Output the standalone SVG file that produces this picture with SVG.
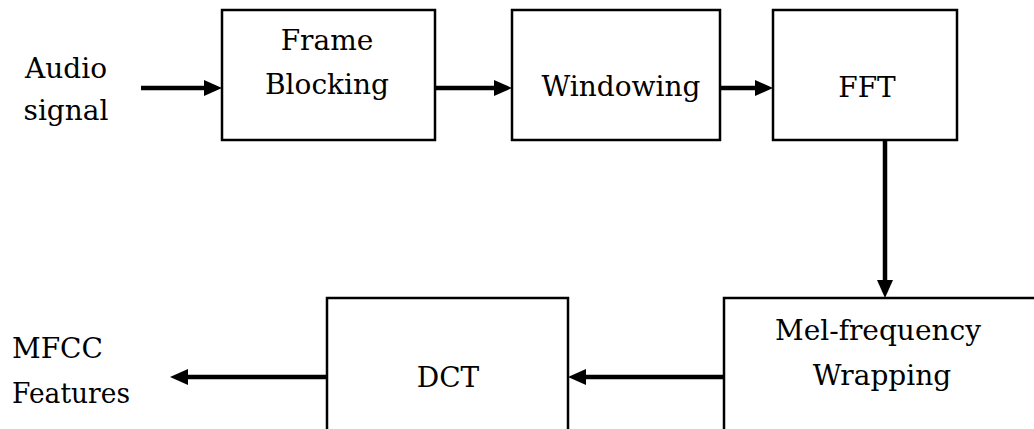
<svg xmlns="http://www.w3.org/2000/svg" width="1034" height="429" viewBox="0 0 1034 429">
  <style>
    .box { fill: #ffffff; stroke: #000000; stroke-width: 2.5; }
    .lbl { font-family: "DejaVu Serif", "Liberation Serif", serif; font-size: 28px; fill: #000000; }
    .mid { text-anchor: middle; }
    .conn { stroke: #000000; stroke-width: 4.5; fill: none; marker-end: url(#ah); }
  </style>
  <defs>
    <marker id="ah" markerUnits="userSpaceOnUse" markerWidth="20" markerHeight="18" refX="7" refY="8" orient="auto">
      <path d="M0,0 L18,8 L0,16 z" fill="#000000"/>
    </marker>
  </defs>
  <rect width="1034" height="429" fill="#ffffff"/>

  <g id="audio-signal">
    <text class="lbl mid" x="66" y="78">Audio</text>
    <text class="lbl mid" x="66" y="120">signal</text>
  </g>

  <g id="frame-blocking">
    <rect class="box" x="222" y="10" width="213" height="130"/>
    <text class="lbl mid" x="327" y="50">Frame</text>
    <text class="lbl mid" x="327" y="94">Blocking</text>
  </g>

  <g id="windowing">
    <rect class="box" x="512" y="10" width="208" height="130"/>
    <text class="lbl mid" x="621" y="96">Windowing</text>
  </g>

  <g id="fft">
    <rect class="box" x="773" y="10" width="184" height="130"/>
    <text class="lbl mid" x="867" y="97">FFT</text>
  </g>

  <g id="mel-frequency-wrapping">
    <rect class="box" x="724" y="298" width="330" height="150"/>
    <text class="lbl mid" x="878" y="340">Mel-frequency</text>
    <text class="lbl mid" x="882" y="385">Wrapping</text>
  </g>

  <g id="dct">
    <rect class="box" x="327" y="298" width="241" height="150"/>
    <text class="lbl mid" x="448" y="387">DCT</text>
  </g>

  <g id="mfcc-features">
    <text class="lbl" x="12" y="358">MFCC</text>
    <text class="lbl" x="12" y="403" textLength="118" lengthAdjust="spacingAndGlyphs">Features</text>
  </g>

  <g id="connectors">
    <line class="conn" x1="141" y1="88" x2="211" y2="88"/>
    <line class="conn" x1="435" y1="88" x2="501" y2="88"/>
    <line class="conn" x1="720" y1="88" x2="762" y2="88"/>
    <line class="conn" x1="885" y1="140" x2="885" y2="287"/>
    <line class="conn" x1="724" y1="377" x2="579" y2="377"/>
    <line class="conn" x1="327" y1="377" x2="181" y2="377"/>
  </g>
</svg>
